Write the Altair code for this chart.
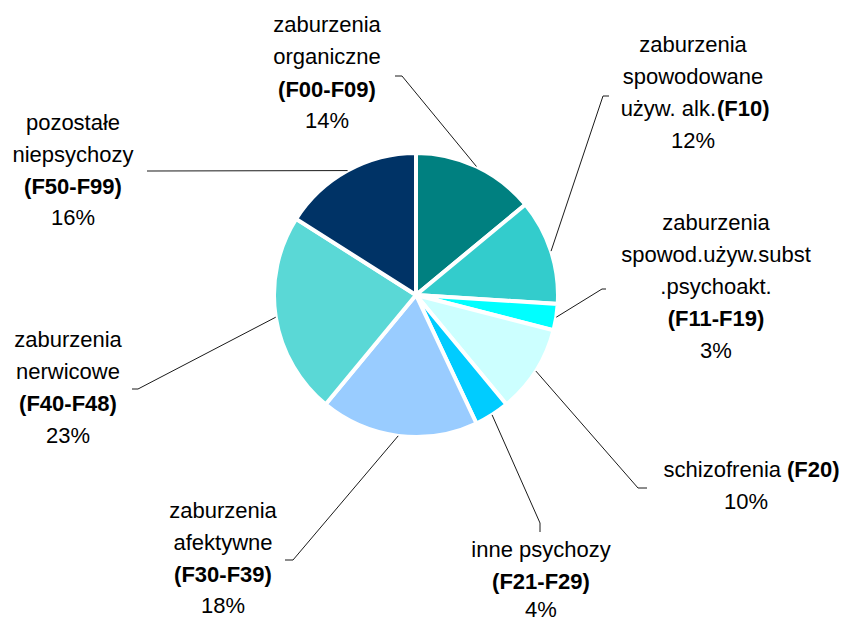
import math
import altair as alt
import pandas as pd

# ---- data ----
codes = ["F00-F09", "F10", "F11-F19", "F20", "F21-F29", "F30-F39", "F40-F48", "F50-F99"]
shares = [14, 12, 3, 10, 4, 18, 23, 16]
colors = ["#008080", "#33CCCC", "#00FFFF", "#CCFFFF", "#00CCFF", "#99CCFF", "#5AD8D6", "#003366"]

# label lines: (code, text, bold, align)
label_lines = [
    ("F00-F09", "zaburzenia", False, "center"), ("F00-F09", "organiczne", False, "center"),
    ("F00-F09", "(F00-F09)", True, "center"), ("F00-F09", "14%", False, "center"),
    ("F10", "zaburzenia", False, "center"), ("F10", "spowodowane", False, "center"),
    ("F10", "używ. alk.", False, "right"), ("F10", "(F10)", True, "left"), ("F10", "12%", False, "center"),
    ("F11-F19", "zaburzenia", False, "center"), ("F11-F19", "spowod.używ.subst", False, "center"),
    ("F11-F19", ".psychoakt.", False, "center"), ("F11-F19", "(F11-F19)", True, "center"),
    ("F11-F19", "3%", False, "center"),
    ("F20", "schizofrenia", False, "right"), ("F20", "(F20)", True, "left"), ("F20", "10%", False, "center"),
    ("F21-F29", "inne psychozy", False, "center"), ("F21-F29", "(F21-F29)", True, "center"),
    ("F21-F29", "4%", False, "center"),
    ("F30-F39", "zaburzenia", False, "center"), ("F30-F39", "afektywne", False, "center"),
    ("F30-F39", "(F30-F39)", True, "center"), ("F30-F39", "18%", False, "center"),
    ("F40-F48", "zaburzenia", False, "center"), ("F40-F48", "nerwicowe", False, "center"),
    ("F40-F48", "(F40-F48)", True, "center"), ("F40-F48", "23%", False, "center"),
    ("F50-F99", "pozostałe", False, "center"), ("F50-F99", "niepsychozy", False, "center"),
    ("F50-F99", "(F50-F99)", True, "center"), ("F50-F99", "16%", False, "center"),
]

# ---- layout (page pixel positions of annotations) ----
M = 8
CX, CY, R = 416 - M, 295 - M, 142
label_pos = [  # (x, baseline y) per label line, same order as label_lines
    (327, 32), (327, 64), (327, 97), (327, 128),
    (693, 52), (693, 84), (716, 116), (717, 116), (693, 148),
    (716, 230), (716, 262), (716, 294), (716, 326), (716, 358),
    (781, 477), (787, 477), (746, 509),
    (541, 557), (541, 589), (541, 617),
    (223, 518), (223, 550), (223, 582), (223, 613),
    (68, 347), (68, 379), (68, 411), (68, 443),
    (73, 130), (73, 162), (73, 194), (73, 225),
]
leader_start = {  # label end and elbow of each leader line
    "F00-F09": [(395, 76), (402, 76)], "F10": [(609, 96), (603, 96)],
    "F11-F19": [(606, 289), (602, 289)], "F20": [(647, 488), (638, 488)],
    "F21-F29": [(540, 532), (540, 523)], "F30-F39": [(285, 560), (293, 560)],
    "F40-F48": [(132, 389), (138, 389)], "F50-F99": [(147, 171), (150, 171)],
}

pie_df = pd.DataFrame({"code": codes, "share": shares, "order": list(range(len(codes)))})

# leader lines end at the slice mid-angle on the pie edge
total = sum(shares)
rows = []
cum = 0
for code, s in zip(codes, shares):
    mid = (cum + s / 2) / total * 2 * math.pi
    cum += s
    pts = [(x - M, y - M) for x, y in leader_start[code]]
    pts.append((CX + R * math.sin(mid), CY - R * math.cos(mid)))
    for i, (x, y) in enumerate(pts):
        rows.append({"code": code, "seq": i, "px": x, "py": y})
line_df = pd.DataFrame(rows)

text_df = pd.DataFrame([
    {"code": c, "text": t, "bold": b, "align": a, "px": p[0] - M, "py": p[1] - M}
    for (c, t, b, a), p in zip(label_lines, label_pos)
])

arcs = alt.Chart(pie_df).mark_arc(outerRadius=R, stroke="white", strokeWidth=4).encode(
    theta=alt.Theta("share:Q", stack=True),
    order=alt.Order("order:Q"),
    color=alt.Color("code:N", scale=alt.Scale(domain=codes, range=colors), legend=None),
    x=alt.value(CX),
    y=alt.value(CY),
)

leaders = alt.Chart(line_df).mark_line(color="#1a1a1a", strokeWidth=1).encode(
    x=alt.X("px:Q", scale=None, axis=None),
    y=alt.Y("py:Q", scale=None, axis=None),
    detail="code:N",
    order="seq:Q",
)

text_layers = []
for align in ["center", "left", "right"]:
    for bold in [False, True]:
        sub = text_df[(text_df["align"] == align) & (text_df["bold"] == bold)]
        if len(sub) == 0:
            continue
        text_layers.append(
            alt.Chart(sub).mark_text(
                align=align, baseline="alphabetic", font="Liberation Sans", fontSize=22,
                fontWeight="bold" if bold else "normal", color="black",
            ).encode(
                x=alt.X("px:Q", scale=None, axis=None),
                y=alt.Y("py:Q", scale=None, axis=None),
                text="text:N",
            )
        )

chart = alt.layer(arcs, leaders, *text_layers).properties(
    width=831, height=616, padding=0, autosize="none"
).configure_view(stroke=None)

chart.save("out.html", embed_options={"renderer": "svg", "actions": False})
